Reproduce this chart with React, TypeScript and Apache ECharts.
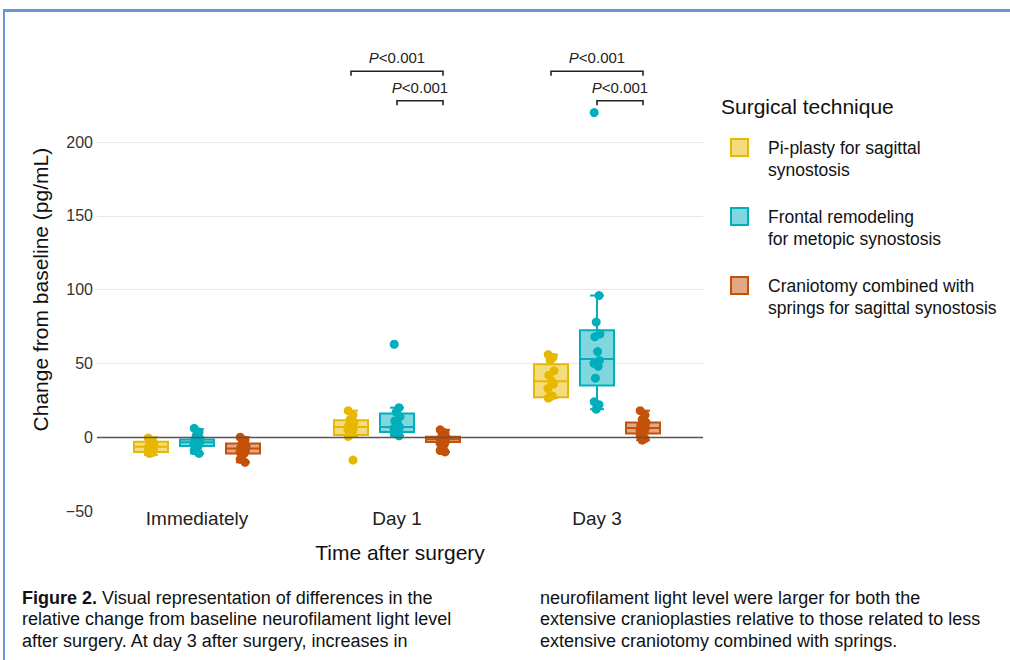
import React, { useEffect, useRef } from 'react';
import * as echarts from 'echarts';

// ---------- data ----------
const categories = ['Immediately', 'Day 1', 'Day 3'];
const techniqueNames = [
  'Pi-plasty for sagittal synostosis',
  'Frontal remodeling for metopic synostosis',
  'Craniotomy combined with springs for sagittal synostosis',
];
const legendLines = [
  ['Pi-plasty for sagittal', 'synostosis'],
  ['Frontal remodeling', 'for metopic synostosis'],
  ['Craniotomy combined with', 'springs for sagittal synostosis'],
];

// box statistics per time point: [lower whisker, Q1, median, Q3, upper whisker]
const piplastyBox = [
  [-12, -10, -6.5, -3, 0],
  [0.5, 1.5, 7, 11.5, 18],
  [26.5, 27, 38, 49.5, 56],
];
const frontalBox = [
  [-11, -6, -3.5, -1.5, 5.5],
  [1, 3.6, 7, 16, 20],
  [19, 35, 53, 72.5, 96],
];
const springsBox = [
  [-17, -11, -7.7, -4.3, 0],
  [-10, -3.2, -1.4, 0.3, 5],
  [-2, 2.5, 6.3, 10, 18],
];

// individual observations per time point
const piplastyPoints = [
  [-0.5, -3, -4.5, -5.5, -6.5, -7, -8, -9.5, -10.5, -11],
  [18, 15, 12, 10, 8, 7, 6, 5, 3, 1.5, 0.5, -15.5],
  [56, 54, 52, 45, 42, 38, 36, 33, 28, 27, 26.5],
];
const frontalPoints = [
  [6, 3.5, 1, -1, -2, -3, -4, -5, -6, -7.5, -9, -11],
  [63, 20, 17, 14, 11, 9, 7, 6, 5, 4, 3, 1],
  [220, 96, 78, 70, 68, 58, 52, 50, 48, 40, 24, 22, 19],
];
const springsPoints = [
  [0, -2, -4, -6, -7, -8, -9, -10, -11, -13, -15, -17],
  [5, 3, 1.5, 0, -1, -2, -3, -4, -5, -7, -9, -10],
  [18, 15, 12, 10, 8, 7, 6, 5, 4, 3, 1, -1, -2],
];

const yTickLabels = [-50, 0, 50, 100, 150, 200];
const yGridValues = [0, 50, 100, 150, 200];

// significance brackets: time index, from technique, to technique, height (pg/mL)
const bracketTimes = [1, 1, 2, 2];
const bracketFrom = [0, 1, 0, 1];
const bracketTo = [2, 2, 2, 2];
const bracketLevels = [248, 228, 248, 228];
const bracketLabels = ['P<0.001', 'P<0.001', 'P<0.001', 'P<0.001'];

const captionLeft = [
  'Visual representation of differences in the',
  'relative change from baseline neurofilament light level',
  'after surgery. At day 3 after surgery, increases in',
];
const captionRight = [
  'neurofilament light level were larger for both the',
  'extensive cranioplasties relative to those related to less',
  'extensive craniotomy combined with springs.',
];

// ---------- styles ----------
const colors = ['#E7B800', '#00AFBB', '#C4510A'];
const fills = ['#F3DC80', '#80D7DD', '#E2A885'];
const dodge = [-0.23, 0, 0.23];
const jitterPattern = [-0.014, 0.01, -0.004, 0.015, -0.011, 0.003, 0.012, -0.015, 0.006, -0.008];
const FONT = '"Liberation Sans", Arial, Helvetica, sans-serif';

const boxes = [piplastyBox, frontalBox, springsBox];
const points = [piplastyPoints, frontalPoints, springsPoints];

export default function App() {
  const ref = useRef<HTMLDivElement>(null);

  useEffect(() => {
    if (!ref.current) return;
    const chart = echarts.init(ref.current, undefined, { renderer: 'svg' });

    const series: any[] = [];

    techniqueNames.forEach((name, k) => {
      series.push({
        type: 'custom',
        name,
        clip: false,
        z: 2,
        encode: { x: 0, y: [1, 2, 3, 4, 5] },
        data: boxes[k].map((s, t) => [t + dodge[k], ...s]),
        renderItem: (params: any, api: any) => {
          const x = api.value(0);
          const lo = api.coord([x, api.value(1)]);
          const q1 = api.coord([x, api.value(2)]);
          const md = api.coord([x, api.value(3)]);
          const q3 = api.coord([x, api.value(4)]);
          const hi = api.coord([x, api.value(5)]);
          const hw = api.size([0.085, 0])[0];
          const cw = api.size([0.035, 0])[0];
          const cx = lo[0];
          const ls = { stroke: colors[k], lineWidth: 2 };
          return {
            type: 'group',
            children: [
              { type: 'line', shape: { x1: cx, y1: q3[1], x2: cx, y2: hi[1] }, style: ls },
              { type: 'line', shape: { x1: cx, y1: q1[1], x2: cx, y2: lo[1] }, style: ls },
              { type: 'line', shape: { x1: cx - cw, y1: hi[1], x2: cx + cw, y2: hi[1] }, style: ls },
              { type: 'line', shape: { x1: cx - cw, y1: lo[1], x2: cx + cw, y2: lo[1] }, style: ls },
              {
                type: 'rect',
                shape: { x: cx - hw, y: q3[1], width: hw * 2, height: q1[1] - q3[1] },
                style: { fill: fills[k], stroke: colors[k], lineWidth: 2 },
              },
              { type: 'line', shape: { x1: cx - hw, y1: md[1], x2: cx + hw, y2: md[1] }, style: ls },
            ],
          };
        },
        ...(k === 0
          ? {
              markLine: {
                silent: true,
                symbol: 'none',
                label: { show: false },
                lineStyle: { color: '#555555', width: 1.3, type: 'solid' },
                data: [{ yAxis: 0 }],
              },
            }
          : {}),
      });
    });

    techniqueNames.forEach((name, k) => {
      const data: number[][] = [];
      points[k].forEach((vals, t) => {
        vals.forEach((v, i) => {
          data.push([t + dodge[k] + jitterPattern[i % jitterPattern.length], v]);
        });
      });
      series.push({
        type: 'scatter',
        name: name + ' (observations)',
        data,
        symbol: 'circle',
        symbolSize: 9,
        z: 3,
        itemStyle: { color: colors[k], opacity: 1 },
      });
    });

    series.push({
      type: 'custom',
      name: 'significance',
      clip: false,
      z: 4,
      encode: { x: [0, 1], y: 2 },
      data: bracketTimes.map((t, i) => [
        t + dodge[bracketFrom[i]],
        t + dodge[bracketTo[i]],
        bracketLevels[i],
        i,
      ]),
      renderItem: (params: any, api: any) => {
        const lvl = api.value(2);
        const p1 = api.coord([api.value(0), lvl]);
        const p2 = api.coord([api.value(1), lvl]);
        const idx = api.value(3);
        const label = bracketLabels[idx];
        return {
          type: 'group',
          children: [
            {
              type: 'polyline',
              shape: {
                points: [
                  [p1[0], p1[1] + 4.5],
                  [p1[0], p1[1]],
                  [p2[0], p2[1]],
                  [p2[0], p2[1] + 4.5],
                ],
              },
              style: { stroke: '#222', lineWidth: 1.6, fill: 'none' },
            },
            {
              type: 'text',
              x: (p1[0] + p2[0]) / 2,
              y: p1[1] - 6,
              style: {
                text: '{i|' + label.charAt(0) + '}' + label.slice(1),
                rich: { i: { fontStyle: 'italic', fontSize: 15, fontFamily: FONT, fill: '#222' } },
                fontSize: 15,
                fontFamily: FONT,
                fill: '#222',
                align: 'center',
                verticalAlign: 'bottom',
              },
            },
          ],
        };
      },
    });

    const graphic: any[] = [
      // frame lines
      { type: 'rect', shape: { x: 3, y: 9, width: 1007, height: 3 }, style: { fill: '#6699D4' }, silent: true },
      { type: 'rect', shape: { x: 3, y: 9, width: 2, height: 651 }, style: { fill: '#6699D4' }, silent: true },
      {
        type: 'text',
        left: 721,
        top: 96,
        style: { text: 'Surgical technique', fontSize: 21, fontFamily: FONT, fill: '#111' },
      },
    ];
    legendLines.forEach((lines, k) => {
      const top = 139 + k * 69;
      graphic.push({
        type: 'rect',
        shape: { x: 731, y: top, width: 17, height: 17 },
        style: { fill: fills[k], stroke: colors[k], lineWidth: 2 },
      });
      graphic.push({
        type: 'text',
        left: 768,
        top: top - 2,
        style: {
          text: lines.join('\n'),
          fontSize: 17.5,
          lineHeight: 22,
          fontFamily: FONT,
          fill: '#111',
        },
      });
    });
    // caption
    graphic.push({
      type: 'text',
      left: 22,
      top: 587,
      style: {
        text: '{b|Figure 2.} ' + captionLeft[0] + '\n' + captionLeft[1] + '\n' + captionLeft[2],
        rich: { b: { fontWeight: 'bold', fontSize: 18, fontFamily: FONT, fill: '#111' } },
        fontSize: 18,
        lineHeight: 21.5,
        fontFamily: FONT,
        fill: '#111',
      },
    });
    graphic.push({
      type: 'text',
      left: 540,
      top: 587,
      style: {
        text: captionRight.join('\n'),
        fontSize: 18,
        lineHeight: 21.5,
        fontFamily: FONT,
        fill: '#111',
      },
    });

    chart.setOption({
      animation: false,
      backgroundColor: '#ffffff',
      textStyle: { fontFamily: FONT },
      grid: { left: 97, right: 307, top: 68.25, bottom: 149 },
      xAxis: {
        type: 'value',
        min: -0.5,
        max: 2.53,
        axisLine: { show: false },
        axisTick: { show: false },
        splitLine: { show: false },
        axisLabel: {
          customValues: [0, 1, 2],
          formatter: (v: number) => categories[Math.round(v)],
          fontSize: 19,
          color: '#222',
          margin: -2,
          fontFamily: FONT,
        },
        name: 'Time after surgery',
        nameLocation: 'middle',
        nameGap: 31,
        nameTextStyle: { fontSize: 21, color: '#111', fontFamily: FONT },
      },
      yAxis: {
        type: 'value',
        min: -50,
        max: 250,
        axisLine: { show: false },
        axisTick: { show: false, customValues: yGridValues },
        splitLine: { show: true, lineStyle: { color: '#E8E8E8', width: 1.2 } },
        axisLabel: {
          customValues: yTickLabels,
          formatter: (v: number) => (v < 0 ? '\u2212' + Math.abs(v) : String(v)),
          fontSize: 16,
          color: '#333',
          margin: 4,
          fontFamily: FONT,
        },
        name: 'Change from baseline (pg/mL)',
        nameLocation: 'middle',
        nameGap: 46,
        nameTextStyle: { fontSize: 21, color: '#111', fontFamily: FONT },
      },
      series,
      graphic,
    });

    return () => chart.dispose();
  }, []);

  return (
    <div
      ref={ref}
      style={{ position: 'fixed', left: 0, top: 0, width: 1010, height: 660, background: '#fff' }}
    />
  );
}
